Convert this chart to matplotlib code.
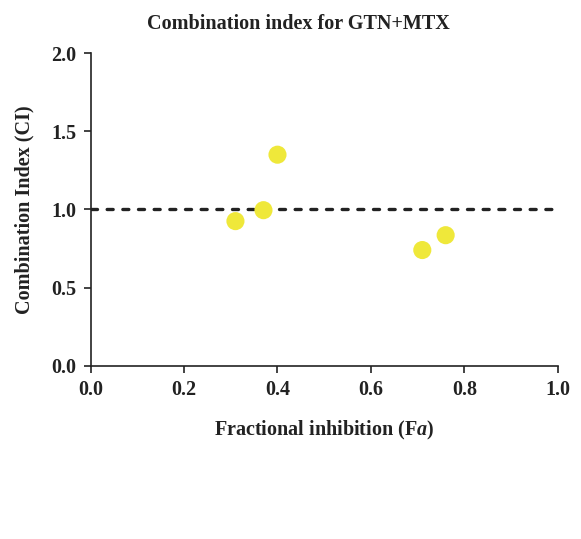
import numpy as np
import matplotlib
matplotlib.use("Agg")
import matplotlib.pyplot as plt

# data
fa = [0.31, 0.37, 0.40, 0.71, 0.76]
ci = [0.925, 0.995, 1.35, 0.74, 0.835]
xticks = [0.0, 0.2, 0.4, 0.6, 0.8, 1.0]
yticks = [0.0, 0.5, 1.0, 1.5, 2.0]

plt.rcParams['font.family'] = ['Liberation Serif', 'DejaVu Serif']
plt.rcParams['font.weight'] = 'bold'
plt.rcParams['mathtext.fontset'] = 'custom'
plt.rcParams['mathtext.it'] = 'Liberation Serif:italic:bold'
plt.rcParams['mathtext.rm'] = 'Liberation Serif:bold'

fig = plt.figure(figsize=(5.81, 5.39), dpi=100)
ax = fig.add_axes([0.156, 0.3215, 0.804, 0.580])

# additivity line at CI = 1
ax.plot([0, 0.99], [1, 1], color='#222222', lw=2.4, linestyle=(0, (1.8, 2.9)),
        dash_capstyle='round', zorder=2)
ax.scatter(fa, ci, s=170, color='#EFE83A', edgecolors='none', zorder=3)

ax.set_xlim(0, 1.0)
ax.set_ylim(0, 2.0)
ax.set_xticks(xticks)
ax.set_yticks(yticks)
ax.set_xticklabels([f"{v:.1f}" for v in xticks], fontsize=14.5, fontweight='bold')
ax.set_yticklabels([f"{v:.1f}" for v in yticks], fontsize=14.5, fontweight='bold')
ax.tick_params(direction='out', length=5, width=1.2, color='#222222', pad=5,
               labelcolor='#222222')

for side in ['top', 'right']:
    ax.spines[side].set_visible(False)
for side in ['left', 'bottom']:
    ax.spines[side].set_linewidth(1.2)
    ax.spines[side].set_color('#222222')

ax.set_xlabel('Fractional inhibition (F$a$)', fontsize=14.5,
              fontweight='bold', labelpad=14, color='#222222')
ax.set_ylabel('Combination Index (CI)', fontsize=14.5, fontweight='bold',
              labelpad=12, color='#222222')
ax.set_title('Combination index for GTN+MTX', fontsize=14.5, fontweight='bold',
             pad=17, color='#222222', x=0.445)

fig.savefig('out.png', dpi=100)
